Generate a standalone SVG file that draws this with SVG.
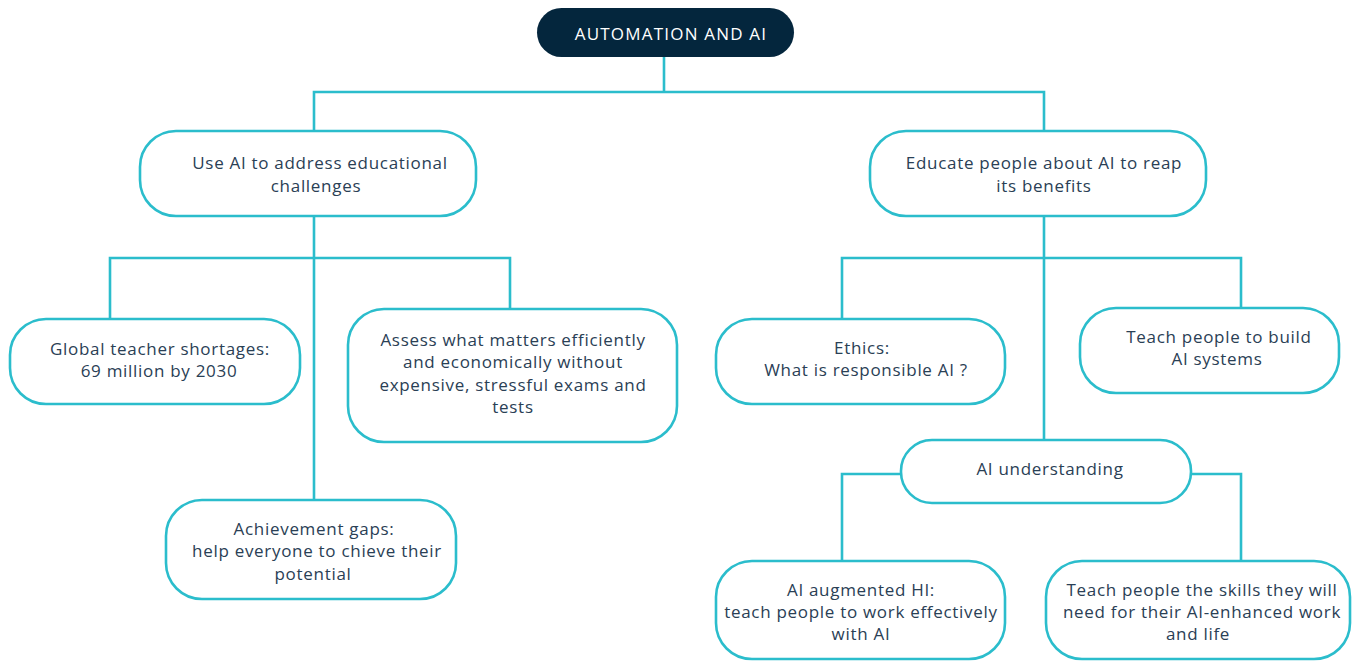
<svg xmlns="http://www.w3.org/2000/svg" width="1352" height="661" viewBox="0 0 1352 661">
<style>
.n{fill:#fff;stroke:#2bbdcc;stroke-width:2.6}
.c{fill:none;stroke:#2bbdcc;stroke-width:2.6}
.t{font-family:"Open Sans","Liberation Sans",sans-serif;font-size:17px;letter-spacing:0.7px;fill:#2a4055;text-anchor:middle}
.w{font-family:"Open Sans","Liberation Sans",sans-serif;font-size:17px;letter-spacing:1.2px;fill:#fff;text-anchor:middle}
</style>
<rect width="1352" height="661" fill="#fff"/>
<g id="connectors">
<path class="c" d="M664 57V92M314 131V92H1044V131"/>
<path class="c" d="M314 216V500M110 319V258H510V309"/>
<path class="c" d="M1044 216V440M842 319V258H1241V308"/>
<path class="c" d="M901 474H842V561M1191 474H1241V561"/>
</g>
<g id="root"><rect x="537" y="8" width="257" height="49" rx="24.5" fill="#04263d"/><text class="w" x="671" y="40">AUTOMATION AND AI</text></g>
<g id="nA"><rect class="n" x="140" y="131" width="336" height="85" rx="36"/><text class="t" x="320" y="169">Use AI to address educational</text><text class="t" x="316" y="192">challenges</text></g>
<g id="nB"><rect class="n" x="870" y="131" width="336" height="85" rx="36"/><text class="t" x="1044" y="169">Educate people about AI to reap</text><text class="t" x="1044" y="192">its benefits</text></g>
<g id="nC"><rect class="n" x="10" y="319" width="290" height="85" rx="36"/><text class="t" x="160" y="355">Global teacher shortages:</text><text class="t" x="159" y="377">69 million by 2030</text></g>
<g id="nD"><rect class="n" x="348" y="309" width="329" height="133" rx="36"/><text class="t" x="513" y="346">Assess what matters efficiently</text><text class="t" x="513" y="368">and economically without</text><text class="t" x="513" y="391">expensive, stressful exams and</text><text class="t" x="513" y="413">tests</text></g>
<g id="nE"><rect class="n" x="166" y="500" width="290" height="99" rx="36"/><text class="t" x="314" y="535">Achievement gaps:</text><text class="t" x="317" y="557">help everyone to chieve their</text><text class="t" x="313" y="580">potential</text></g>
<g id="nF"><rect class="n" x="716" y="319" width="289" height="85" rx="36"/><text class="t" x="862" y="354">Ethics:</text><text class="t" x="866" y="376">What is responsible AI ?</text></g>
<g id="nG"><rect class="n" x="1080" y="308" width="259" height="85" rx="36"/><text class="t" x="1219" y="343">Teach people to build</text><text class="t" x="1217" y="365">AI systems</text></g>
<g id="nH"><rect class="n" x="901" y="440" width="290" height="63" rx="31"/><text class="t" x="1050" y="475">AI understanding</text></g>
<g id="nI"><rect class="n" x="716" y="561" width="289" height="98" rx="36"/><text class="t" x="861" y="596">AI augmented HI:</text><text class="t" x="861" y="618">teach people to work effectively</text><text class="t" x="861" y="640">with AI</text></g>
<g id="nJ"><rect class="n" x="1046" y="561" width="304" height="98" rx="36"/><text class="t" x="1202" y="596">Teach people the skills they will</text><text class="t" x="1202" y="618">need for their AI-enhanced work</text><text class="t" x="1198" y="640">and life</text></g>
</svg>
